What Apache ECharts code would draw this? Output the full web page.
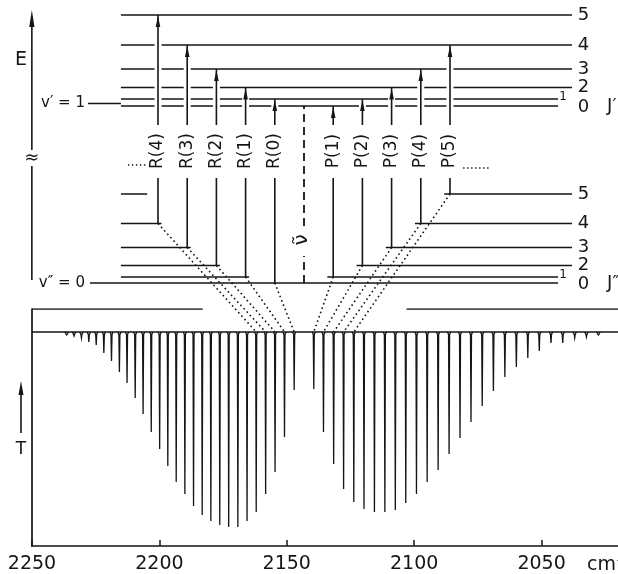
<!DOCTYPE html>
<html><head><meta charset="utf-8">
<script src="https://cdn.jsdelivr.net/npm/echarts@6/dist/echarts.min.js"></script>
<style>html,body{margin:0;padding:0;background:#fff}#c{width:618px;height:574px}</style>
</head><body><div id="c"></div>
<script>
// ---------------- data ----------------
const tickLabels = [2250, 2200, 2150, 2100, 2050];
// R branch R(0)..R(27): wavenumber (cm-1) and transmittance at line minimum
const rBranchNu = [2147.1, 2150.9, 2154.6, 2158.3, 2162.0, 2165.6, 2169.2, 2172.8, 2176.3, 2179.8, 2183.2, 2186.6, 2190.0, 2193.4, 2196.7, 2199.9, 2203.2, 2206.4, 2209.5, 2212.7, 2215.7, 2218.8, 2221.8, 2224.8, 2227.7, 2230.6, 2233.5, 2236.4];
const rBranchT  = [65.8, 46.0, 31.2, 21.9, 14.3, 10.5, 8.0, 8.0, 8.9, 10.5, 13.1, 16.9, 21.9, 27.0, 33.8, 40.9, 48.1, 55.7, 62.4, 68.8, 73.4, 78.1, 81.4, 84.8, 86.1, 87.8, 88.6, 89.0];
// P branch P(1)..P(27)
const pBranchNu = [2139.4, 2135.6, 2131.6, 2127.7, 2123.7, 2119.7, 2115.6, 2111.5, 2107.4, 2103.3, 2099.1, 2094.9, 2090.6, 2086.3, 2082.0, 2077.7, 2073.3, 2068.9, 2064.4, 2059.9, 2055.4, 2050.9, 2046.3, 2041.7, 2037.0, 2032.4, 2027.7];
const pBranchT  = [66.2, 48.1, 34.6, 24.1, 18.6, 15.6, 14.3, 14.3, 15.2, 18.1, 21.9, 27.0, 32.1, 38.8, 45.6, 52.3, 59.1, 65.4, 71.3, 75.5, 79.3, 82.3, 85.7, 85.7, 87.8, 88.2, 89.0];
const baselineT = 90.3;
const referenceT = 100;
const referenceSegments = [[2250, 2183], [2103, 2020]];
// energy-level scheme (schematic units)
const upperLevelE = [177, 184, 195.5, 214, 238, 268];   // v'=1, J' = 0..5
const lowerLevelE = [0, 6, 17.5, 35.5, 59.5, 89];       // v''=0, J'' = 0..5
const levelLabels = ['0', '1', '2', '3', '4', '5'];
const transitionLabels = ['R(4)', 'R(3)', 'R(2)', 'R(1)', 'R(0)', 'P(1)', 'P(2)', 'P(3)', 'P(4)', 'P(5)'];
const transitionPos    = [-5, -4, -3, -2, -1, 1, 2, 3, 4, 5];
const transitionLowerJ = [4, 3, 2, 1, 0, 1, 2, 3, 4, 5];
const transitionUpperJ = [5, 4, 3, 2, 1, 0, 1, 2, 3, 4];
const bandOriginPos = 0;

// ---------------- drawing ----------------
const INK = '#151515';
const FONT = 'DejaVu Sans';
const chart = echarts.init(document.getElementById('c'));

function seg(a, b, w, extra) {
  return {type: 'line', shape: {x1: a[0], y1: a[1], x2: b[0], y2: b[1]},
    style: Object.assign({stroke: INK, lineWidth: w || 1.5}, extra || {})};
}
function txt(p, s, size, opt) {
  opt = opt || {};
  return {type: 'text', x: p[0], y: p[1], rotation: opt.rot || 0,
    style: {text: s, fontSize: size, fontFamily: FONT, fill: INK,
      align: opt.align || 'center', verticalAlign: opt.va || 'middle'}};
}
function head(tip, len, half) {
  return {type: 'polygon', shape: {points: [[tip[0], tip[1]], [tip[0] - half, tip[1] + len], [tip[0] + half, tip[1] + len]]},
    style: {fill: INK}};
}
const LV = {start: -6.27, endLong: 9.18, endShort: 8.70, labX: 9.57, labX1: 8.87, jX: 10.38, groundStart: -7.33, stub: 0.9};
const GAP_LO = 105, GAP_HI = 158, LABEL_E = 132;

function levelLabel(api, J, E, ch) {
  const lp = api.coord([J === 1 ? LV.labX1 : LV.labX, E]);
  const dy = J === 1 ? -2 : (J === 0 ? 1 : 0);
  ch.push(txt([lp[0], lp[1] + dy], levelLabels[J], J === 1 ? 12 : 18));
}

const series = [
  // upper levels v' = 1
  {type: 'custom', xAxisIndex: 1, yAxisIndex: 1, silent: true,
    data: upperLevelE.map((e, j) => [j, e]),
    renderItem: (params, api) => {
      const J = api.value(0), E = api.value(1);
      const ch = [seg(api.coord([LV.start, E]), api.coord([J >= 2 ? LV.endLong : LV.endShort, E]), 1.5)];
      levelLabel(api, J, E, ch);
      return {type: 'group', children: ch};
    }},
  // lower levels v'' = 0
  {type: 'custom', xAxisIndex: 1, yAxisIndex: 1, silent: true,
    data: lowerLevelE.map((e, j) => [j, e]),
    renderItem: (params, api) => {
      const J = api.value(0), E = api.value(1);
      const end = J >= 2 ? LV.endLong : LV.endShort;
      const ch = [];
      if (J === 0) {
        ch.push(seg(api.coord([LV.groundStart, E]), api.coord([end, E]), 1.6));
      } else {
        let rEnd = LV.start + LV.stub, pStart = null;
        transitionLabels.forEach((lab, k) => {
          if (transitionLowerJ[k] !== J) return;
          if (lab[0] === 'R') rEnd = Math.max(rEnd, transitionPos[k] + 0.12);
          else pStart = transitionPos[k] - 0.2;
        });
        ch.push(seg(api.coord([LV.start, E]), api.coord([rEnd, E]), 1.5));
        if (pStart !== null) ch.push(seg(api.coord([pStart, E]), api.coord([end, E]), 1.5));
      }
      levelLabel(api, J, E, ch);
      return {type: 'group', children: ch};
    }},
  // transitions
  {type: 'custom', xAxisIndex: 1, yAxisIndex: 1, silent: true,
    data: transitionPos.map((p, k) => [p, lowerLevelE[transitionLowerJ[k]], upperLevelE[transitionUpperJ[k]], k]),
    renderItem: (params, api) => {
      const p = api.value(0), El = api.value(1), Eu = api.value(2), k = api.value(3);
      const ch = [];
      ch.push(seg(api.coord([p, El]), api.coord([p, GAP_LO]), 1.6));
      ch.push(seg(api.coord([p, GAP_HI]), api.coord([p, Eu - 3]), 7, {stroke: '#fff'}));
      ch.push(seg(api.coord([p, GAP_HI]), api.coord([p, Eu]), 1.6));
      const tip = api.coord([p, Eu]);
      ch.push(head([tip[0], tip[1] + 1], 11, 2.3));
      ch.push(txt(api.coord([p, LABEL_E]), transitionLabels[k], 17, {rot: Math.PI / 2}));
      return {type: 'group', children: ch};
    }},
  // band origin (dashed)
  {type: 'custom', xAxisIndex: 1, yAxisIndex: 1, silent: true,
    data: [[bandOriginPos, lowerLevelE[0], upperLevelE[0]]],
    renderItem: (params, api) => {
      const p = api.value(0), E0 = api.value(1), E1 = api.value(2);
      const d = {lineDash: [8, 5]};
      return {type: 'group', children: [
        seg(api.coord([p, E0]), api.coord([p, 27]), 1.8, d),
        seg(api.coord([p, 57]), api.coord([p, E1]), 1.8, d),
        txt(api.coord([p - 0.07, 43]), 'ν̃', 20, {rot: Math.PI / 2})
      ]};
    }},
  // energy axis and scheme annotations
  {type: 'custom', xAxisIndex: 1, yAxisIndex: 1, silent: true,
    data: [[0]],
    renderItem: (params, api) => {
      const ax = -9.32;
      const top = api.coord([ax, 273]);
      const dots = {lineDash: [1.4, 2.6]};
      return {type: 'group', children: [
        seg(api.coord([ax, 3]), api.coord([ax, 117]), 1.6),
        seg(api.coord([ax, 133]), api.coord([ax, 260]), 1.6),
        head(top, 17, 2.6),
        txt(api.coord([ax, 125]), '≈', 18),
        txt(api.coord([-9.69, 223]), 'E', 19),
        txt(api.coord([-7.5, 180]), 'v\u2032 = 1', 15, {align: 'right'}),
        seg(api.coord([-7.4, 179.5]), api.coord([LV.start, 179.5]), 1.5),
        txt(api.coord([-7.5, 0]), 'v\u2033 = 0', 15, {align: 'right'}),
        txt(api.coord([LV.jX, upperLevelE[0]]), 'J\u2032', 18, {align: 'left'}),
        txt(api.coord([LV.jX, lowerLevelE[0]]), 'J\u2033', 18, {align: 'left'}),
        seg(api.coord([-6.03, 118]), api.coord([-5.38, 118]), 1.3, dots),
        seg(api.coord([5.45, 115]), api.coord([6.37, 115]), 1.3, dots)
      ]};
    }},
  // spectrum baseline
  {type: 'line', xAxisIndex: 0, yAxisIndex: 0, symbol: 'none', silent: true,
    data: [[2250, baselineT], [2020, baselineT]], lineStyle: {color: INK, width: 1.5}},
  // 100 % reference segments
  ...referenceSegments.map(sg => ({type: 'line', xAxisIndex: 0, yAxisIndex: 0, symbol: 'none', silent: true,
    data: [[sg[0], referenceT], [sg[1], referenceT]], lineStyle: {color: INK, width: 1.7}})),
  // absorption lines
  {type: 'custom', xAxisIndex: 0, yAxisIndex: 0, silent: true,
    data: rBranchNu.map((nu, i) => [nu, rBranchT[i]]).concat(pBranchNu.map((nu, i) => [nu, pBranchT[i]])),
    renderItem: (params, api) => {
      const nu = api.value(0), T = api.value(1);
      const t = api.coord([nu, baselineT]), b = api.coord([nu, T]);
      return {type: 'polyline', shape: {points: [[t[0] - 1.7, t[1]], [t[0] - 0.5, t[1] + 2.5], [b[0], b[1]], [t[0] + 0.5, t[1] + 2.5], [t[0] + 1.7, t[1]]]},
        style: {stroke: INK, fill: null, lineWidth: 1.3}};
    }}
];

const option = {
  animation: false,
  backgroundColor: '#fff',
  grid: [
    {left: 12, right: 22, top: 10, bottom: 291},
    {left: 32, right: 0, top: 309, bottom: 28}
  ],
  xAxis: [
    {gridIndex: 1, type: 'value', min: 2020, max: 2250, inverse: true,
      axisLine: {show: true, onZero: false, lineStyle: {color: INK, width: 1.7}},
      axisTick: {show: true, inside: true, length: 6, customValues: tickLabels, lineStyle: {color: INK, width: 1.5}},
      axisLabel: {customValues: tickLabels, formatter: v => String(v), fontSize: 19, fontFamily: FONT, color: INK, margin: 9},
      splitLine: {show: false}},
    {gridIndex: 0, type: 'value', min: -10, max: 10, show: false}
  ],
  yAxis: [
    {gridIndex: 1, type: 'value', min: 0, max: 100,
      axisLine: {show: true, onZero: false, lineStyle: {color: INK, width: 1.7}},
      axisTick: {show: false}, axisLabel: {show: false}, splitLine: {show: false}},
    {gridIndex: 0, type: 'value', min: 0, max: 273, show: false}
  ],
  graphic: [
    {type: 'line', shape: {x1: 21, y1: 433, x2: 21, y2: 392}, style: {stroke: INK, lineWidth: 1.6}},
    {type: 'polygon', shape: {points: [[21, 381], [18.5, 395], [23.5, 395]]}, style: {fill: INK}},
    {type: 'text', x: 21, y: 450, style: {text: 'T', fontSize: 17, fontFamily: FONT, fill: INK, align: 'center', verticalAlign: 'middle'}},
    {type: 'text', x: 587, y: 565, style: {text: 'cm⁻¹', fontSize: 19, fontFamily: FONT, fill: INK, align: 'left', verticalAlign: 'middle'}}
  ],
  series: series
};
chart.setOption(option);

// dotted connectors from each transition's lower level to its spectral line
const connectors = transitionLabels.map((lab, k) => {
  const J = parseInt(lab.slice(2), 10);
  const nu = lab[0] === 'R' ? rBranchNu[J] : pBranchNu[J - 1];
  const pix = chart.convertToPixel({gridIndex: 0}, [transitionPos[k], lowerLevelE[transitionLowerJ[k]]]);
  const top = chart.convertFromPixel({gridIndex: 1}, pix);
  return [top[0], top[1], nu, baselineT];
});
option.series.push({type: 'custom', xAxisIndex: 0, yAxisIndex: 0, silent: true, clip: false,
  data: connectors, encode: {x: [0, 2], y: [1, 3]},
  renderItem: (params, api) => {
    const a = api.coord([api.value(0), api.value(1)]), b = api.coord([api.value(2), api.value(3)]);
    return seg(a, b, 1.6, {lineDash: [1.6, 3]});
  }});
chart.setOption(option, true);
</script>
</body></html>
